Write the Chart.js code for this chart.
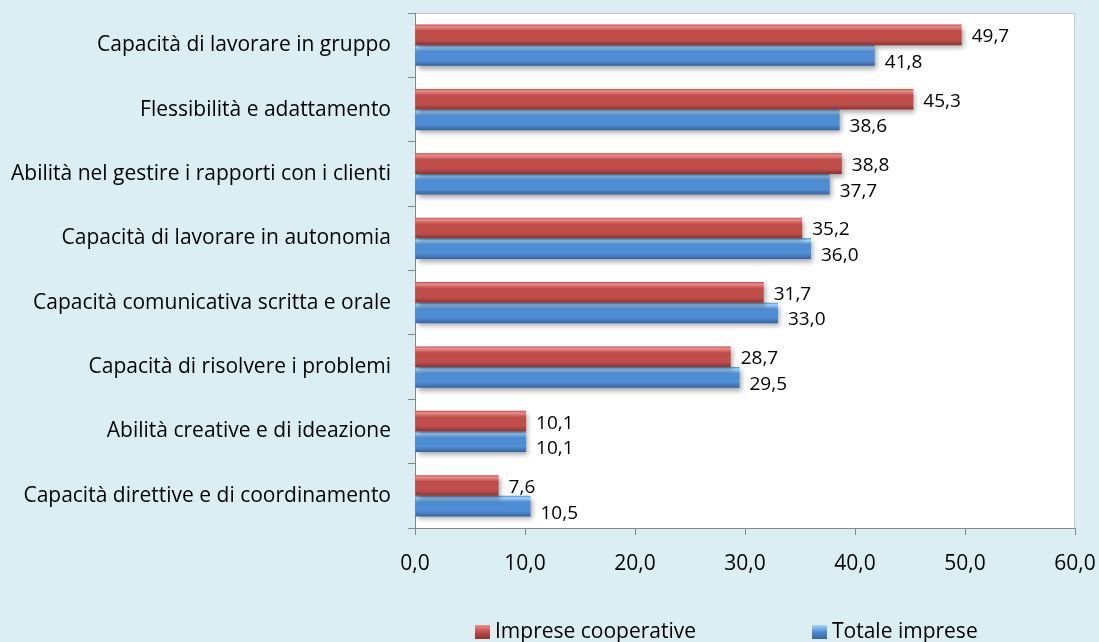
<!DOCTYPE html>
<html>
<head>
<meta charset="utf-8">
<script src="https://cdn.jsdelivr.net/npm/chart.js@4/dist/chart.umd.min.js"></script>
<style>
    html, body { margin: 0; padding: 0; background: #dbeef4; }
    #wrap { width: 1099px; height: 642px; position: relative; }
</style>
</head>
<body>
<div id="wrap"><canvas id="skillsChart"></canvas></div>
<script>
// Dati
const categories = [
    'Capacità di lavorare in gruppo',
    'Flessibilità e adattamento',
    'Abilità nel gestire i rapporti con i clienti',
    'Capacità di lavorare in autonomia',
    'Capacità comunicativa scritta e orale',
    'Capacità di risolvere i problemi',
    'Abilità creative e di ideazione',
    'Capacità direttive e di coordinamento'
];
const cooperativeValues = [49.7, 45.3, 38.8, 35.2, 31.7, 28.7, 10.1, 7.6];
const totalValues = [41.8, 38.6, 37.7, 36.0, 33.0, 29.5, 10.1, 10.5];
const seriesNames = ['Imprese cooperative', 'Totale imprese'];
const xTicks = [0, 10, 20, 30, 40, 50, 60];

const FONT = '"Open Sans", sans-serif';
const fmt = v => v.toFixed(1).replace('.', ',');

// colori: [chiaro, medio, scuro]
const palette = [
    ['#ec8d8a', '#bf4e4b', '#8a3432'],
    ['#9fd6fb', '#4f8dd4', '#3563a0']
];

// sfondo bianco dell'area del grafico
const plotBackground = {
    id: 'plotBackground',
    beforeDraw(chart) {
        const {ctx, chartArea: a} = chart;
        ctx.save();
        ctx.fillStyle = '#ffffff';
        ctx.fillRect(a.left, a.top, a.right - a.left, a.bottom - a.top);
        ctx.strokeStyle = '#c8c8c8';
        ctx.lineWidth = 1;
        ctx.strokeRect(a.left + 0.5, a.top + 0.5, a.right - a.left - 1, a.bottom - a.top);
        ctx.restore();
    }
};

// gradiente verticale + ombra per ogni barra
const barLook = {
    id: 'barLook',
    beforeDatasetDraw(chart, args) {
        const ctx = chart.ctx;
        const cols = palette[args.index];
        args.meta.data.forEach(bar => {
            const top = bar.y - bar.height / 2;
            const g = ctx.createLinearGradient(0, top, 0, top + bar.height);
            g.addColorStop(0, cols[1]);
            g.addColorStop(0.1, cols[0]);
            g.addColorStop(0.3, cols[1]);
            g.addColorStop(0.75, cols[1]);
            g.addColorStop(1, cols[2]);
            bar.options.backgroundColor = g;
        });
        ctx.save();
        ctx.shadowColor = 'rgba(0,0,0,0.35)';
        ctx.shadowBlur = 5;
        ctx.shadowOffsetX = 2;
        ctx.shadowOffsetY = 3;
    },
    afterDatasetDraw(chart) {
        chart.ctx.restore();
    }
};

// etichette dei valori
const valueLabels = {
    id: 'valueLabels',
    afterDatasetsDraw(chart) {
        const ctx = chart.ctx;
        ctx.save();
        ctx.font = '19px ' + FONT;
        ctx.fillStyle = '#000000';
        ctx.textAlign = 'left';
        ctx.textBaseline = 'middle';
        chart.data.datasets.forEach((ds, di) => {
            chart.getDatasetMeta(di).data.forEach((bar, i) => {
                const dy = di === 0 ? 2 : 7;
                ctx.fillText(fmt(ds.data[i]), bar.x + 10, bar.y + dy);
            });
        });
        ctx.restore();
    }
};

// legenda in basso
const bottomLegend = {
    id: 'bottomLegend',
    afterDraw(chart) {
        const ctx = chart.ctx;
        const items = [{x: 475, name: seriesNames[0], c: palette[0]}, {x: 812, name: seriesNames[1], c: palette[1]}];
        ctx.save();
        ctx.font = '21px ' + FONT;
        ctx.textBaseline = 'middle';
        items.forEach(it => {
            const y = 625;
            const g = ctx.createLinearGradient(0, y, 0, y + 14);
            g.addColorStop(0, it.c[0]);
            g.addColorStop(0.5, it.c[1]);
            g.addColorStop(1, it.c[2]);
            ctx.fillStyle = g;
            ctx.fillRect(it.x, y, 15, 14);
            ctx.fillStyle = '#000000';
            ctx.fillText(it.name, it.x + 20, y + 7);
        });
        ctx.restore();
    }
};

const canvas = document.getElementById('skillsChart');
new Chart(canvas, {
    type: 'bar',
    data: {
        labels: categories,
        datasets: [
            {label: seriesNames[0], data: cooperativeValues, backgroundColor: () => palette[0][1]},
            {label: seriesNames[1], data: totalValues, backgroundColor: () => palette[1][1]}
        ]
    },
    options: {
        indexAxis: 'y',
        responsive: true,
        maintainAspectRatio: false,
        animation: false,
        categoryPercentage: 0.64,
        barPercentage: 1,
        layout: {padding: {top: 13, right: 24, bottom: 60, left: 0}},
        scales: {
            x: {
                min: 0, max: 60,
                afterBuildTicks: s => { s.ticks = xTicks.map(v => ({value: v})); },
                afterFit: s => { s.height = 54; s.paddingLeft = 0; s.paddingRight = 0; },
                grid: {drawOnChartArea: false, tickLength: 7, color: '#868686'},
                border: {color: '#868686'},
                ticks: {
                    padding: 16,
                    color: '#000000',
                    font: {family: FONT, size: 21},
                    callback: v => fmt(v)
                }
            },
            y: {
                afterFit: s => { s.width = 415; s.paddingTop = 0; s.paddingBottom = 0; },
                grid: {drawOnChartArea: false, offset: true, tickLength: 7, color: '#868686'},
                border: {color: '#868686'},
                ticks: {
                    padding: 17,
                    color: '#000000',
                    font: {family: FONT, size: 21}
                }
            }
        },
        plugins: {
            legend: {display: false},
            tooltip: {enabled: false}
        }
    },
    plugins: [plotBackground, barLook, valueLabels, bottomLegend]
});
</script>
</body>
</html>
